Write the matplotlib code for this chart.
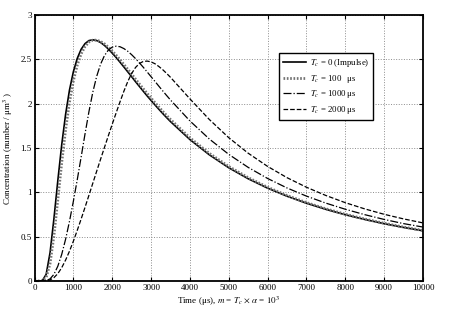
import matplotlib
matplotlib.use('Agg')
from matplotlib import pyplot as plt

# time axis (us) and concentration curves
t = [0, 100, 200, 300, 400, 500, 600, 700, 800, 900, 1000, 1100, 1200, 1300, 1400,
     1500, 1600, 1700, 1800, 1900, 2000, 2100, 2200, 2300, 2400, 2500, 2600, 2700,
     2800, 2900, 3000, 3100, 3200, 3300, 3400, 3500, 4000, 4500, 5000, 5500, 6000,
     6500, 7000, 7500, 8000, 8500, 9000, 9500, 10000]

c_impulse = [0, 0, 0.003, 0.075, 0.319, 0.704, 1.133, 1.536, 1.879, 2.153, 2.360, 2.510,
             2.613, 2.677, 2.711, 2.720, 2.712, 2.690, 2.657, 2.616, 2.570, 2.521, 2.468,
             2.414, 2.359, 2.304, 2.248, 2.194, 2.140, 2.087, 2.036, 1.986, 1.937, 1.889,
             1.843, 1.798, 1.595, 1.423, 1.277, 1.153, 1.047, 0.956, 0.877, 0.808, 0.747,
             0.694, 0.646, 0.604, 0.566]

c_100 = [0, 0, 0.002, 0.039, 0.197, 0.512, 0.919, 1.335, 1.708, 2.016, 2.257, 2.435,
         2.562, 2.645, 2.694, 2.716, 2.716, 2.701, 2.674, 2.637, 2.593, 2.546, 2.495,
         2.441, 2.387, 2.332, 2.276, 2.221, 2.167, 2.114, 2.062, 2.011, 1.961, 1.913,
         1.866, 1.821, 1.614, 1.439, 1.291, 1.165, 1.057, 0.964, 0.884, 0.814, 0.753,
         0.699, 0.651, 0.608, 0.570]

c_1000 = [0, 0, 0, 0.004, 0.024, 0.075, 0.167, 0.300, 0.471, 0.673, 0.899, 1.142,
          1.398, 1.659, 1.908, 2.129, 2.308, 2.445, 2.542, 2.604, 2.637, 2.648, 2.642,
          2.621, 2.591, 2.552, 2.508, 2.460, 2.410, 2.357, 2.304, 2.251, 2.197, 2.144,
          2.092, 2.041, 1.805, 1.601, 1.428, 1.281, 1.156, 1.049, 0.957, 0.878, 0.809,
          0.748, 0.694, 0.647, 0.608]

c_2000 = [0, 0, 0, 0.002, 0.012, 0.038, 0.083, 0.150, 0.236, 0.336, 0.449, 0.571,
          0.699, 0.831, 0.966, 1.102, 1.238, 1.373, 1.506, 1.638, 1.768, 1.895, 2.020,
          2.140, 2.249, 2.340, 2.408, 2.453, 2.476, 2.480, 2.471, 2.450, 2.419, 2.383,
          2.341, 2.297, 2.054, 1.821, 1.616, 1.441, 1.292, 1.165, 1.057, 0.964, 0.883,
          0.813, 0.752, 0.700, 0.655]

xticks = [0, 1000, 2000, 3000, 4000, 5000, 6000, 7000, 8000, 9000, 10000]
yticks = [0, 0.5, 1, 1.5, 2, 2.5, 3]
ytick_labels = ['0', '0.5', '1', '1.5', '2', '2.5', '3']

plt.rcParams['font.family'] = ['Liberation Serif', 'DejaVu Serif']
plt.rcParams['mathtext.fontset'] = 'stix'

fig = plt.figure(figsize=(4.69, 3.12), dpi=100)
ax = fig.add_axes([0.0736, 0.0994, 0.8284, 0.8526])

ax.plot(t, c_impulse, '-', color='k', lw=1.2, label='$T_c$ = 0 (Impulse)')
ax.plot(t, c_100, linestyle=(0, (0.6, 0.6)), color='0.45', lw=2.0, label='$T_c$ = 100   μs')
ax.plot(t, c_1000, '-.', color='k', lw=0.9, label='$T_c$ = 1000 μs')
ax.plot(t, c_2000, '--', color='k', lw=0.9, label='$T_c$ = 2000 μs')

ax.set_xlim(0, 10000)
ax.set_ylim(0, 3)
ax.set_xticks(xticks)
ax.set_xticklabels([str(v) for v in xticks])
ax.set_yticks(yticks)
ax.set_yticklabels(ytick_labels)
ax.tick_params(direction='in', length=3, labelsize=6.5, top=True, right=True, pad=2)
ax.grid(True, linestyle=':', color='0.55', lw=0.7)
for s in ax.spines.values():
    s.set_linewidth(1.3)

ax.set_xlabel(r'Time (μs), $m$ = $T_c$ $\times$ $\alpha$ = $10^3$', fontsize=6.5, labelpad=2)
ax.set_ylabel(r'Concentration (number / μm$^3$ )', fontsize=6.5, labelpad=4)

leg = ax.legend(loc='upper left', bbox_to_anchor=(0.629, 0.857), borderaxespad=0,
                fancybox=False, edgecolor='k', framealpha=1, fontsize=6.3,
                handlelength=2.7, handletextpad=0.4, labelspacing=0.42,
                borderpad=0.45)
leg.get_frame().set_linewidth(1.0)

fig.savefig('out.png', dpi=100)
